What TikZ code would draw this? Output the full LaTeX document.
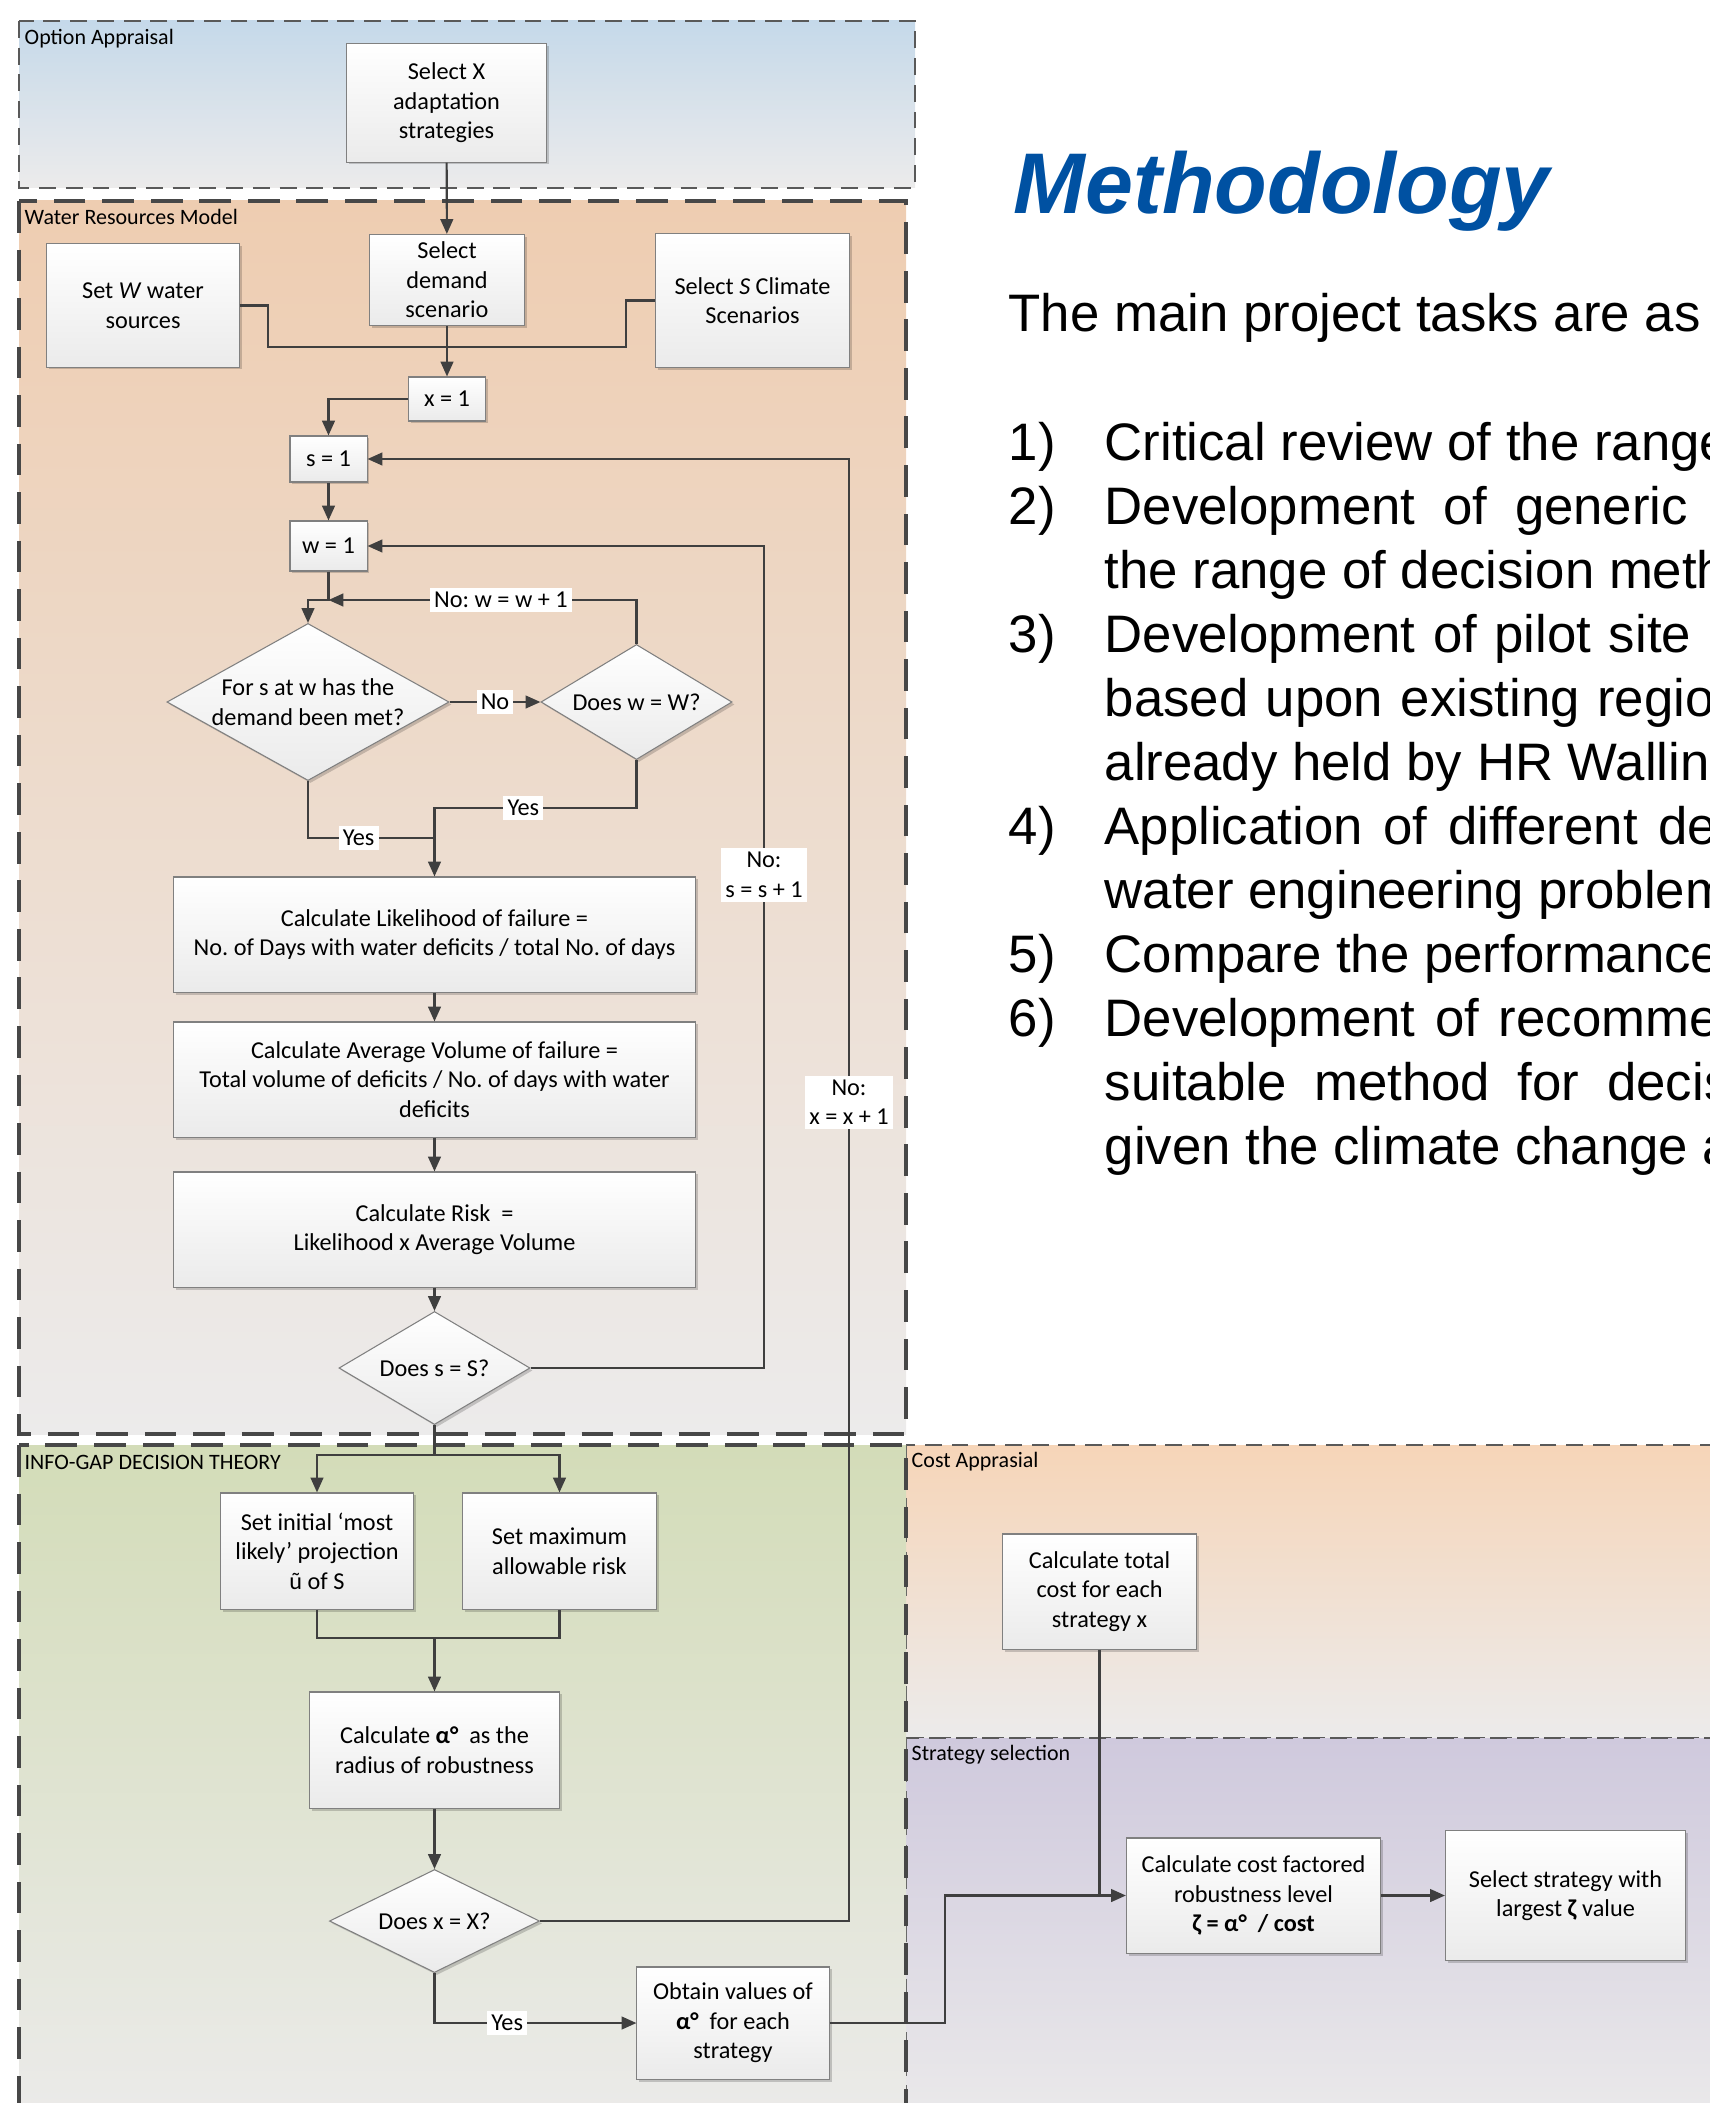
\documentclass[tikz,border=0pt]{standalone}
\usepackage{fontspec}
\setmainfont{Carlito}
\newfontfamily\arialfont{Liberation Sans}
\usetikzlibrary{arrows.meta,shapes.geometric,shadows}
\frenchspacing

\definecolor{linegray}{HTML}{3F3F3F}
\definecolor{methblue}{HTML}{0051A2}
\definecolor{opttop}{HTML}{C5D9EA}
\definecolor{wrmtop}{HTML}{EECDB1}
\definecolor{igtop}{HTML}{D3DCB8}
\definecolor{costtop}{HTML}{F6D5B8}
\definecolor{strattop}{HTML}{CFC9DD}
\definecolor{fadegray}{HTML}{ECEBEB}

\newcommand\flowfont{\fontsize{6.9}{8.4}\selectfont}
\newcommand\zonefont{\fontsize{6.25}{7.5}\selectfont}
\newcommand\headfont{\arialfont\bfseries\itshape\fontsize{24.5}{29}\selectfont}
\newcommand\bodyfont{\arialfont\fontsize{15}{18}\selectfont}

\begin{document}
\begin{tikzpicture}[x=0.01cm,y=-0.01cm,
  thinzone/.style={draw=black!65, line width=0.45pt, dash pattern=on 4.8pt off 2.8pt},
  thickzone/.style={draw=black!72, line width=1pt, dash pattern=on 9pt off 4.8pt},
  box/.style={draw=black!50, line width=0.3pt, top color=white, bottom color=black!8,
    align=center, inner sep=1pt, font=\flowfont,
    drop shadow={shadow xshift=0.7pt, shadow yshift=-0.7pt, opacity=0.18, fill=black}},
  dia/.style={box, diamond, inner sep=0pt},
  conn/.style={draw=linegray, line width=0.6pt},
  arr/.style={conn, -{Triangle[length=4.2pt,width=3.6pt]}},
  lbl/.style={fill=white, inner sep=1.2pt, font=\flowfont, align=center},
  zonelbl/.style={anchor=west, inner sep=0pt, font=\zonefont},
  task/.style={anchor=base west, inner sep=0pt, font=\bodyfont},
]
\useasboundingbox (0,0) rectangle (1710,2103);
\clip (0,0) rectangle (1710,2103);

% Zones
\draw[thinzone, top color=opttop, bottom color=fadegray] (19,21) rectangle (915,188);
\draw[thinzone, top color=costtop, bottom color=fadegray] (906,1445) rectangle (1740,1738);
\draw[thinzone, top color=strattop, bottom color=fadegray] (906,1738) rectangle (1740,2140);
\draw[thickzone, top color=wrmtop, bottom color=fadegray] (19,201) rectangle (906,1434);
\draw[thickzone, top color=igtop, bottom color=fadegray] (19,1445) rectangle (906,2140);

\node[zonelbl] (optlbl) at (24,39) {Option Appraisal};
\node[zonelbl] (wrmlbl) at (24,217) {Water Resources Model};
\node[zonelbl] (iglbl) at (24,1462) {INFO-GAP DECISION THEORY};
\node[zonelbl] (costlbl) at (911,1462) {Cost Apprasial};
\node[zonelbl] (stratlbl) at (911,1755) {Strategy selection};

% Water resources model
\node[box, minimum width=1.99cm, minimum height=1.18cm] (selx) at (446.5,103) {Select X\\adaptation\\strategies};
\node[box, minimum width=1.54cm, minimum height=0.91cm] (seld) at (447,280) {Select\\demand\\scenario};
\node[box, minimum width=1.92cm, minimum height=1.23cm] (setw) at (143,305.5) {Set \textit{W} water\\sources};
\node[box, minimum width=1.93cm, minimum height=1.33cm] (sels) at (752.5,300.5) {Select \textit{S} Climate\\Scenarios};
\node[box, minimum width=0.77cm, minimum height=0.44cm] (x1) at (447,399) {x = 1};
\node[box, minimum width=0.77cm, minimum height=0.46cm] (s1) at (328.5,459) {s = 1};
\node[box, minimum width=0.77cm, minimum height=0.50cm] (w1) at (328.5,546) {w = 1};
\node[dia, aspect=1.8, minimum width=2.82cm, minimum height=1.57cm] (d1) at (308,702) {For s at w has the\\demand been met?};
\node[dia, aspect=1.66, minimum width=1.91cm, minimum height=1.15cm] (d2) at (636.5,702) {Does w = W?};
\node[box, minimum width=5.21cm, minimum height=1.15cm] (calcl) at (434.5,934.5) {Calculate Likelihood of failure =\\No. of Days with water deficits / total No. of days};
\node[box, minimum width=5.21cm, minimum height=1.15cm] (calca) at (434.5,1079.5) {Calculate Average Volume of failure =\\Total volume of deficits / No. of days with water\\deficits};
\node[box, minimum width=5.21cm, minimum height=1.15cm] (calcr) at (434.5,1229.5) {Calculate Risk\ \ =\\Likelihood x Average Volume};
\node[dia, aspect=1.69, minimum width=1.91cm, minimum height=1.13cm] (dss) at (434.5,1368) {Does s = S?};

% Info-gap decision theory
\node[box, minimum width=1.92cm, minimum height=1.16cm] (init) at (317,1551) {Set initial ‘most\\likely’ projection\\ũ of S};
\node[box, minimum width=1.93cm, minimum height=1.16cm] (maxr) at (559.5,1551) {Set maximum\\allowable risk};
\node[box, minimum width=2.50cm, minimum height=1.16cm] (alpha) at (434.5,1750) {Calculate \textbf{α°}\ \ as the\\radius of robustness};
\node[dia, aspect=2.04, minimum width=2.10cm, minimum height=1.03cm] (dxx) at (434.5,1921) {Does x = X?};
\node[box, minimum width=1.92cm, minimum height=1.12cm] (obtain) at (733,2023) {Obtain values of\\\textbf{α°}\ \ for each\\strategy};

% Cost appraisal and strategy selection
\node[box, minimum width=1.93cm, minimum height=1.15cm] (total) at (1099.5,1591.5) {Calculate total\\cost for each\\strategy x};
\node[box, minimum width=2.54cm, minimum height=1.15cm] (cfr) at (1253.5,1895.5) {Calculate cost factored\\robustness level\\\textbf{ζ = α°\ \ / cost}};
\node[box, minimum width=2.40cm, minimum height=1.30cm] (sel) at (1565.5,1895.5) {Select strategy with\\largest \textbf{ζ} value};

% Junction points
\coordinate (jl) at (268,347);
\coordinate (jr) at (626,347);
\coordinate (jw1) at (328.5,600);
\coordinate (jy) at (434.5,838);
\coordinate (jd2) at (636.5,808);
\coordinate (cs) at (764,546);
\coordinate (cx) at (849,459);
\coordinate (split) at (434.5,1455);
\coordinate (merge) at (434.5,1638);
\coordinate (jo) at (945,1960);

% Connectors
\draw[arr] (selx) -- (seld);
\draw[arr] (seld) -- (x1);
\draw[conn] (setw.east) -| (jl) -- (jr) |- (sels.west);
\draw[arr] (x1.west) -| (s1.north);
\draw[arr] (s1) -- (w1);
\draw[arr] (w1.south) -- (jw1) -| (d1.north);
\draw[arr] (d2.north) |- node[lbl, pos=0.72]{No: w = w + 1} (jw1);
\draw[arr] (d1.east) -- node[lbl]{No} (d2.west);
\draw[conn] (d1.south) |- node[lbl, pos=0.70]{Yes} (jy);
\draw[arr] (d2.south) -- (jd2) -| node[lbl, pos=0.28]{Yes} (calcl.north);
\draw[arr] (calcl) -- (calca);
\draw[arr] (calca) -- (calcr);
\draw[arr] (calcr) -- (dss);
\draw[arr] (dss.east) -| node[lbl, pos=0.8]{No:\\s = s + 1} (cs) -- (w1.east);
\draw[conn] (dss.south) -- (split);
\draw[arr] (split) -| (init.north);
\draw[arr] (split) -| (maxr.north);
\draw[conn] (init.south) |- (merge) -| (maxr.south);
\draw[arr] (merge) -- (alpha);
\draw[arr] (alpha) -- (dxx);
\draw[arr] (dxx.east) -| node[lbl, pos=0.78]{No:\\x = x + 1} (cx) -- (s1.east);
\draw[arr] (dxx.south) |- node[lbl, pos=0.68]{Yes} (obtain.west);
\draw[arr] (obtain.east) -| (jo) |- (cfr.west);
\draw[conn] (total.south) -- (total.south |- cfr.west);
\draw[arr] (cfr) -- (sel);

% Methodology text
\node[anchor=base west, inner sep=0pt, font=\headfont, text=methblue] (title) at (1013,213) {Methodology};
\node[task] (intro) at (1008,331) {The main project tasks are as};
\foreach \num/\ypos in {1/460, 2/524, 3/652, 4/844, 5/972, 6/1036}
  \node[task] (num\num) at (1008,\ypos) {\num)};
\node[task] (t1) at (1104,460) {Critical review of the range};
\node[task] (t2) at (1104,524) {\spaceskip=7.9pt Development of generic};
\node[task] (t3) at (1104,588) {the range of decision metho};
\node[task] (t4) at (1104,652) {\spaceskip=5pt Development of pilot site};
\node[task] (t5) at (1104,716) {\spaceskip=5pt based upon existing region};
\node[task] (t6) at (1104,780) {already held by HR Walling};
\node[task] (t7) at (1104,844) {\spaceskip=5.9pt Application of different dec};
\node[task] (t8) at (1104,908) {water engineering problem};
\node[task] (t9) at (1104,972) {Compare the performance};
\node[task] (t10) at (1104,1036) {\spaceskip=5.6pt Development of recommen};
\node[task] (t11) at (1104,1100) {\spaceskip=7.9pt suitable method for decis};
\node[task] (t12) at (1104,1164) {given the climate change a};
\end{tikzpicture}
\end{document}
